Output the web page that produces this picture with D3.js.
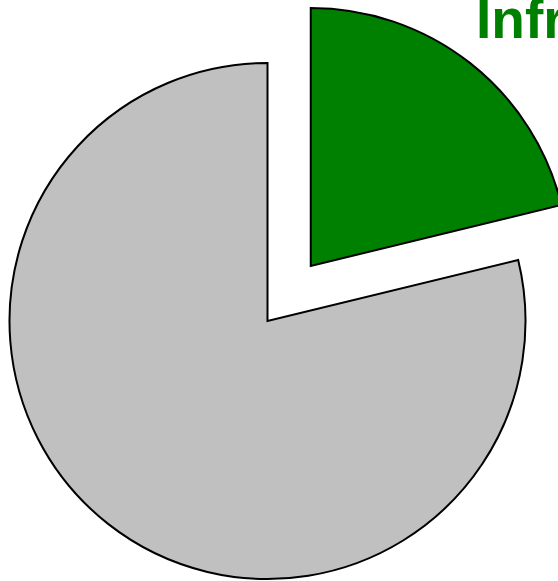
<!DOCTYPE html>
<html><head><meta charset="utf-8">
<script src="https://cdn.jsdelivr.net/npm/d3@7"></script>
<style>html,body{margin:0;padding:0;background:#fff;overflow:hidden}</style>
</head><body>
<svg id="c" width="558" height="581"></svg>
<script>
const categories = ["Infrastructure", "Other"];
const values = [21.2, 78.8];
const colors = ["#008000", "#c0c0c0"];
const exploded = [true, false];

const svg = d3.select("#c");
const cx = 267.5, cy = 321, r = 258, offset = 70;
const pie = d3.pie().sort(null).value(d => d.v);
const arcs = pie(categories.map((c, i) => ({c, v: values[i], i})));
const arc = d3.arc().innerRadius(0).outerRadius(r);
const g = svg.append("g").attr("transform", `translate(${cx},${cy})`);

arcs.forEach(a => {
  const mid = (a.startAngle + a.endAngle) / 2;
  const off = exploded[a.data.i] ? offset : 0;
  const dx = Math.sin(mid) * off, dy = -Math.cos(mid) * off;
  g.append("path")
    .attr("d", arc(a))
    .attr("transform", `translate(${dx},${dy})`)
    .attr("fill", colors[a.data.i])
    .attr("stroke", "#000")
    .attr("stroke-width", 2)
    .attr("stroke-linejoin", "miter");
});

svg.append("text")
  .attr("x", 476).attr("y", 38)
  .attr("font-family", "Liberation Sans, Arial, sans-serif")
  .attr("font-weight", "bold")
  .attr("font-size", 55)
  .attr("fill", "#008000")
  .text(categories[0]);
</script>
</body></html>
